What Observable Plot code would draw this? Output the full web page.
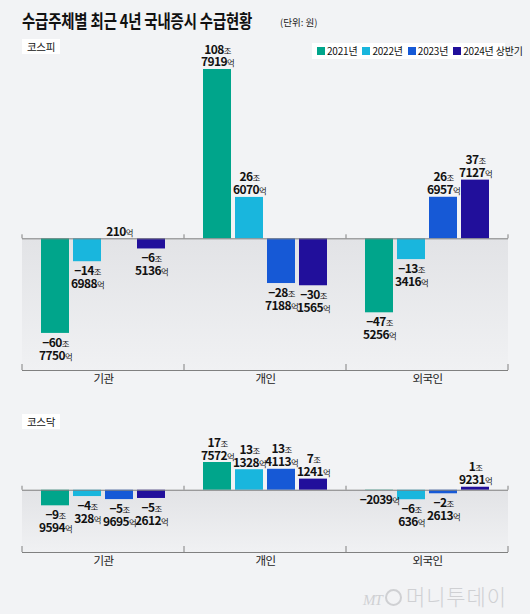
<!DOCTYPE html>
<html><head><meta charset="utf-8">
<script src="https://cdn.jsdelivr.net/npm/d3@7"></script>
<script src="https://cdn.jsdelivr.net/npm/@observablehq/plot@0.6"></script>
<style>
html,body{margin:0;padding:0;background:#f2f3f5;}
#wrap{position:relative;width:530px;height:614px;background:#f2f3f5;font-family:"Noto Sans CJK KR",sans-serif;overflow:hidden;color:#111}
#title{position:absolute;left:22px;top:10px;font-size:18px;line-height:20px;font-weight:700;white-space:nowrap;transform:scaleX(0.8);transform-origin:0 0;letter-spacing:-0.2px}
#unit{position:absolute;left:280px;top:16px;font-size:9.5px;line-height:12px;white-space:nowrap;color:#222}
.chart{position:absolute;left:0}
.chart svg{display:block;overflow:visible}
.chart g[aria-label="text"] text{letter-spacing:-0.6px}
.tag{position:absolute;left:22px;background:#fff;font-size:10.5px;line-height:15px;height:15px;padding:0 5px;letter-spacing:-0.3px}
#legend{position:absolute;left:312px;top:43px;width:193px;height:16px;background:#fff;display:flex;align-items:center;font-size:10px;line-height:16px;font-family:"Liberation Sans Narrow","Noto Sans CJK KR",sans-serif;padding-left:5px;box-sizing:border-box;letter-spacing:-0.2px}
#legend .it{display:flex;align-items:center;margin-right:5px;white-space:nowrap}
#legend .sw{width:8px;height:8px;margin-right:2px}
#wm{position:absolute;left:363px;top:582px;color:#cfd0d3;white-space:nowrap;font-size:22px;line-height:26px}
#wm .mt{font-family:"Liberation Serif",serif;font-style:italic;font-size:15px;letter-spacing:-1px}
#wm .o{display:inline-block;width:13px;height:13px;border:2px solid #cfd0d3;border-radius:50%;margin:0 4px 0 3px;vertical-align:-1px}
#wm .nm{display:inline-block;font-weight:300;transform:scaleX(0.95);transform-origin:0 0;letter-spacing:1px}
</style></head>
<body>
<div id="wrap">
  <div id="title">수급주체별 최근 4년 국내증시 수급현황</div>
  <div id="unit">(단위: 원)</div>
  <div id="c1" class="chart" style="top:0px"></div>
  <div id="c2" class="chart" style="top:400px"></div>
  <div class="tag" style="top:39px">코스피</div>
  <div class="tag" style="top:414px">코스닥</div>
  <div id="legend"></div>
  <div id="wm"><span class="mt">MT</span><span class="o"></span><span class="nm">머니투데이</span></div>
</div>
<script>
// categories
const groups = ["기관", "개인", "외국인"];
const years = ["2021년", "2022년", "2023년", "2024년 상반기"];
const colors = ["#00a58b", "#19b6dd", "#1659d6", "#210f9b"];

// 순매수 금액 (단위: 억원), order = years
const kospiInst    = [-607750, -146988, 210, -65136];
const kospiIndiv   = [1087919, 266070, -287188, -301565];
const kospiForeign = [-475256, -133416, 266957, 377127];

const kosdaqInst    = [-99594, -40328, -59695, -52612];
const kosdaqIndiv   = [177572, 131328, 134113, 71241];
const kosdaqForeign = [-2039, -60636, -22613, 19231];

function label(v) {
  const s = v < 0 ? "−" : "";
  const a = Math.abs(v);
  const jo = Math.floor(a / 10000), eok = a % 10000;
  if (jo === 0) return s + eok + "억";
  if (eok === 0) return s + jo + "조";
  return s + jo + "조\n" + eok + "억";
}

const numFont = "'Liberation Sans Narrow','Noto Sans CJK KR',sans-serif";

function build(series, yDomain, marginTop, marginBottom, height, gradId) {
  const data = [];
  groups.forEach((g, gi) => years.forEach((yr, yi) =>
    data.push({group: g, year: yr, eok: series[gi][yi], value: series[gi][yi] / 10000})));
  const pos = data.filter(d => d.eok >= 0), neg = data.filter(d => d.eok < 0);
  const lbl = {fx: "group", x: "year", y: "value", text: d => label(d.eok),
    fontFamily: numFont, fontWeight: "bold", fontSize: 12, lineHeight: 1.08, fill: "#111"};
  const svg = Plot.plot({
    width: 530, height, marginLeft: 22, marginRight: 22, marginTop, marginBottom,
    style: {background: "transparent", overflow: "visible"},
    fx: {domain: groups, paddingInner: 0, paddingOuter: 0, axis: null, label: null},
    x: {domain: years, paddingInner: 0.11, paddingOuter: 0.55, axis: null, label: null},
    y: {domain: yDomain, axis: null, label: null},
    color: {domain: years, range: colors},
    marks: [
      Plot.rect([0], {y1: 0, y2: yDomain[0], fill: `url(#${gradId})`}),
      Plot.ruleY([yDomain[0]], {stroke: "#808080", strokeWidth: 1}),
      Plot.barY(data, {fx: "group", x: "year", y: "value", fill: "year"}),
      Plot.ruleY([0], {stroke: "#808080", strokeWidth: 1}),
      Plot.text(pos, {...lbl, lineAnchor: "bottom", dy: -3}),
      Plot.text(neg, {...lbl, lineAnchor: "top", dy: 4}),
      Plot.text(groups, {fx: d => d, text: d => d, frameAnchor: "bottom", dy: 12,
        fontSize: 11.5, fill: "#222", fontFamily: "'Noto Sans CJK KR',sans-serif"})
    ]
  });
  const s = d3.select(svg);
  const defs = s.insert("defs", ":first-child");
  const lg = defs.append("linearGradient").attr("id", gradId)
    .attr("x1", 0).attr("y1", 0).attr("x2", 0).attr("y2", 1);
  lg.append("stop").attr("offset", "0%").attr("stop-color", "#e2e3e6");
  lg.append("stop").attr("offset", "100%").attr("stop-color", "#f0f1f3");
  // split number / unit into differently sized (flat) tspans
  s.selectAll("text").each(function () {
    const t = d3.select(this);
    const tsp = t.selectAll("tspan").nodes();
    const lines = tsp.length
      ? tsp.map(n => ({text: n.textContent, x: n.getAttribute("x"), y: n.getAttribute("y"), dy: n.getAttribute("dy")}))
      : [{text: this.textContent, x: null, y: null, dy: null}];
    if (!lines.every(l => /[조억]$/.test(l.text))) return;
    t.text(null);
    lines.forEach(l => {
      const m = l.text.match(/^(.*?)([조억])$/);
      const a = t.append("tspan").text(m[1]);
      if (l.x != null) a.attr("x", l.x);
      if (l.y != null) a.attr("y", l.y);
      if (l.dy != null) a.attr("dy", l.dy);
      t.append("tspan").attr("font-size", "0.7em").attr("font-weight", "normal").text(m[2]);
    });
  });
  // group boundary ticks on zero line and bottom axis
  const fx = svg.scale("fx"), y = svg.scale("y");
  const edges = groups.map(g => fx.apply(g)).concat([fx.range[1]]);
  const y0 = y.apply(0), yb = y.apply(yDomain[0]);
  const tg = s.append("g").attr("stroke", "#808080");
  edges.forEach(x => {
    tg.append("line").attr("x1", x).attr("x2", x).attr("y1", y0).attr("y2", y0 - 4);
    tg.append("line").attr("x1", x).attr("x2", x).attr("y1", yb).attr("y2", yb - 6);
  });
  return svg;
}

document.getElementById("c1").appendChild(
  build([kospiInst, kospiIndiv, kospiForeign], [-84.6, 108.79], 69, 30, 400, "gk1"));
document.getElementById("c2").appendChild(
  build([kosdaqInst, kosdaqIndiv, kosdaqForeign], [-39.85, 17.76], 62, 28, 180, "gk2"));

const leg = d3.select("#legend");
years.forEach((yr, i) => {
  const it = leg.append("div").attr("class", "it");
  it.append("div").attr("class", "sw").style("background", colors[i]);
  it.append("span").text(yr);
});
</script>
</body></html>
